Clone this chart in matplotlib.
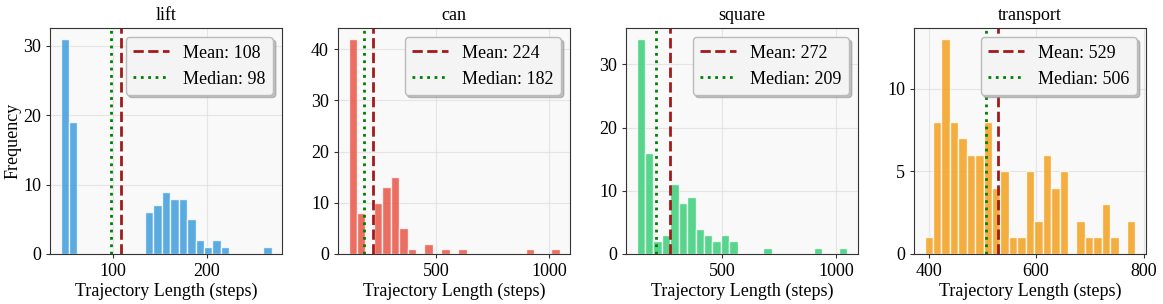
import numpy as np
import matplotlib
matplotlib.use("Agg")
from matplotlib import pyplot as plt
from matplotlib.ticker import MaxNLocator

# histogram data (25 bins per task)
tasks = ["lift", "can", "square", "transport"]
colors = ["#3498db", "#e74c3c", "#2ecc71", "#f39c12"]
bin_start = [44.0, 114.0, 123.5, 392.5]
bin_width = [9.0, 37.3, 37.0, 15.7]
lift_counts = [31, 19, 0, 0, 0, 0, 0, 0, 0, 0, 6, 7, 9, 8, 8, 5, 2, 1, 2, 1, 0, 0, 0, 0, 1]
can_counts = [42, 8, 0, 10, 13, 15, 5, 1, 0, 2, 0, 1, 0, 1, 0, 0, 0, 0, 0, 0, 0, 1, 0, 0, 1]
square_counts = [34, 16, 2, 3, 11, 8, 9, 4, 3, 2, 3, 2, 0, 0, 0, 1, 0, 0, 0, 0, 0, 1, 0, 0, 1]
transport_counts = [1, 8, 13, 8, 7, 6, 6, 8, 4, 5, 1, 1, 5, 2, 6, 4, 5, 0, 2, 1, 1, 3, 1, 0, 2]
counts = [lift_counts, can_counts, square_counts, transport_counts]
means = [108, 224, 272, 529]
medians = [98, 182, 209, 506]

plt.rcParams["font.family"] = ["Liberation Serif", "DejaVu Serif"]
plt.rcParams["font.size"] = 13

fig, axes = plt.subplots(1, 4, figsize=(11.63, 3.04), dpi=100)
fig.subplots_adjust(left=0.043, right=0.9854, bottom=0.1645, top=0.907, wspace=0.241)

for i, ax in enumerate(axes):
    c = np.array(counts[i], dtype=float)
    edges = bin_start[i] + bin_width[i] * np.arange(len(c) + 1)
    ax.set_facecolor("#f9f9f9")
    ax.hist(edges[:-1], bins=edges, weights=c, color=colors[i], alpha=0.8,
            edgecolor="white", linewidth=1)
    ax.axvline(means[i], color="#a11b1b", linestyle="--", linewidth=2,
               label="Mean: %d" % means[i])
    ax.axvline(medians[i], color="green", linestyle=":", linewidth=2,
               label="Median: %d" % medians[i])
    ax.set_title(tasks[i], fontsize=13)
    ax.set_xlabel("Trajectory Length (steps)", fontsize=13, labelpad=2)
    if i == 0:
        ax.set_ylabel("Frequency", fontsize=13, labelpad=1)
    ax.yaxis.set_major_locator(MaxNLocator(nbins="auto", steps=[1, 2, 5, 10], integer=True))
    ax.grid(True, color="#dddddd", alpha=0.7, linewidth=0.8)
    ax.set_axisbelow(True)
    for s in ax.spines.values():
        s.set_color("#333333")
    ax.tick_params(labelsize=13, color="#333333", length=3)
    leg = ax.legend(loc="upper right", fontsize=13, frameon=True, fancybox=True,
                    shadow={"color": "#999999", "alpha": 0.6})
    leg.get_frame().set_facecolor("#f4f4f4")
    leg.get_frame().set_edgecolor("#bbbbbb")
    leg.get_frame().set_alpha(1.0)

plt.savefig("out.png", dpi=100)
